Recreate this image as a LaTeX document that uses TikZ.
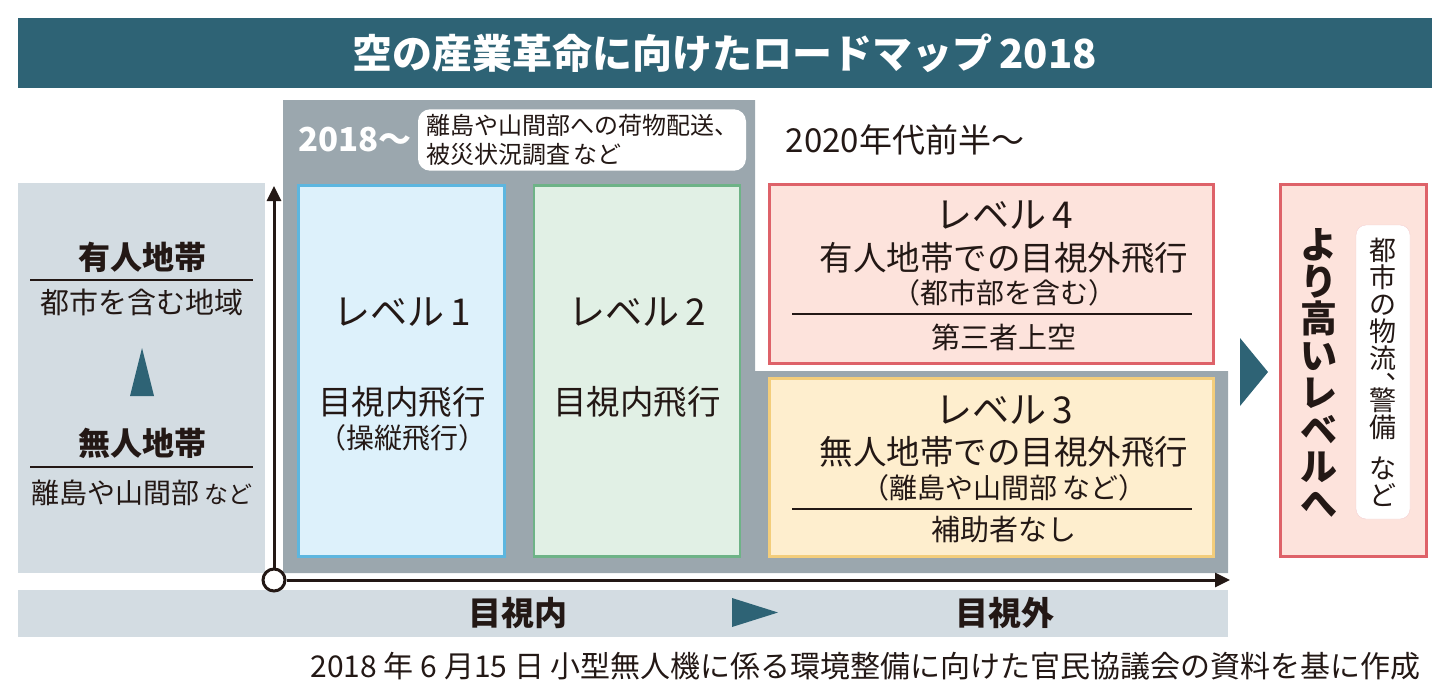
\documentclass[tikz,border=0pt]{standalone}
\usepackage{fontspec}
\setmainfont{Noto Sans CJK JP}
\usetikzlibrary{arrows.meta}

\definecolor{roadteal}{HTML}{2E6375}
\definecolor{panelgray}{HTML}{D3DCE2}
\definecolor{stepgray}{HTML}{9BA7AE}
\definecolor{ink}{HTML}{231815}
\definecolor{lvoneFill}{HTML}{DDF1FB}
\definecolor{lvoneLine}{HTML}{5DB6DF}
\definecolor{lvtwoFill}{HTML}{E1F0E5}
\definecolor{lvtwoLine}{HTML}{6EB387}
\definecolor{lvthreeFill}{HTML}{FEEECE}
\definecolor{lvthreeLine}{HTML}{F3CD7B}
\definecolor{lvfourFill}{HTML}{FDE3DC}
\definecolor{lvfourLine}{HTML}{DE6269}

\newcommand\fsz[1]{\fontsize{#1}{#1}\selectfont}

\tikzset{
  every node/.style={text=ink, inner sep=0pt},
  levelbox/.style={draw=#1Line, fill=#1Fill, line width=2.5pt},
  headtext/.style={font=\fsz{37}},
  bodytext/.style={font=\fsz{33.5}},
  subtext/.style={font=\fsz{28}},
  notetext/.style={font=\fsz{29}},
  rule/.style={draw=ink, line width=1.5pt},
  axis/.style={draw=ink, line width=3pt}
}

\begin{document}
\begin{tikzpicture}[x=1pt, y=-1pt, >={Triangle[length=15pt,width=14pt]}]
    \useasboundingbox (0,0) rectangle (1449,699);

    % 1. タイトル
    \fill[roadteal] (18,18) rectangle (1432,88);
    \node[text=white, font=\fsz{40}\bfseries] (title) at (725,53) {空の産業革命に向けたロードマップ\,2018};

    % 2. 背景の帯
    \fill[panelgray] (18,183) rectangle (265,573);
    \fill[panelgray] (18,590) rectangle (1228,637);
    \fill[stepgray] (283,100) -- (755,100) -- (755,371) -- (1228,371) -- (1228,573) -- (283,573) -- cycle;

    % 3. 左の帯 (有人地帯 / 無人地帯)
    \node[font=\fsz{32}\bfseries] (manned) at (142,257) {有人地帯};
    \draw[rule] (30,280) -- (253,280);
    \node[font=\fsz{29}] (mannedsub) at (142,302) {都市を含む地域};
    \fill[roadteal] (130,396) -- (142,348) -- (154,396) -- cycle;
    \node[font=\fsz{32}\bfseries] (unmanned) at (142,443) {無人地帯};
    \draw[rule] (30,467) -- (253,467);
    \node[font=\fsz{28}] (unmannedsub) at (142,493) {離島や山間部\,{\fsz{24}など}};

    % 4. 時期
    \node[text=white, font=\fsz{33}\bfseries] (since) at (355,140) {2018～};
    \node[fill=white, rounded corners=12pt, inner xsep=8pt, inner ysep=5pt, align=left,
          font=\fontsize{24}{29}\selectfont] (task) at (582,140) {離島や山間部への荷物配送、\\被災状況調査\,など};
    \node[font=\fsz{33}] (early) at (905,140) {2020年代前半～};

    % 5. レベル 1〜4
    \node[levelbox=lvone, minimum width=206, minimum height=371] (lv1) at (401.5,371) {};
    \node[headtext] (lv1head) at (402,312) {レベル\,1};
    \node[bodytext] (lv1body) at (402,402) {目視内飛行};
    \node[subtext] (lv1sub) at (402,438) {（操縦飛行）};

    \node[levelbox=lvtwo, minimum width=206, minimum height=371] (lv2) at (637,371) {};
    \node[headtext] (lv2head) at (637,312) {レベル\,2};
    \node[bodytext] (lv2body) at (637,402) {目視内飛行};

    \node[levelbox=lvfour, minimum width=444, minimum height=179] (lv4) at (991.5,274) {};
    \node[headtext] (lv4head) at (1004,215) {レベル\,4};
    \node[bodytext] (lv4body) at (1004,258) {有人地帯での目視外飛行};
    \node[subtext] (lv4sub) at (1004,293) {（都市部を含む）};
    \draw[rule] (792,314) -- (1192,314);
    \node[notetext] (lv4note) at (1004,337) {第三者上空};

    \node[levelbox=lvthree, minimum width=444, minimum height=178] (lv3) at (991.5,467.5) {};
    \node[headtext] (lv3head) at (1004,410) {レベル\,3};
    \node[bodytext] (lv3body) at (1004,452) {無人地帯での目視外飛行};
    \node[subtext] (lv3sub) at (1004,488) {（離島や山間部\,など）};
    \draw[rule] (792,509) -- (1192,509);
    \node[notetext] (lv3note) at (1004,530) {補助者なし};

    % 6. より高いレベルへ (縦書き)
    \fill[roadteal] (1240,338) -- (1268,372) -- (1240,406) -- cycle;
    \node[levelbox=lvfour, minimum width=146, minimum height=372] (next) at (1353.5,370.5) {};
    \node[align=center, font=\fsz{37}\bfseries] (nexthead) at (1319,373) {よ\\り\\高\\い\\レ\\ベ\\ル\\へ};
    \node[fill=white, draw=lvfourLine!30, rounded corners=10pt, minimum width=54, minimum height=294,
          align=center, font=\fsz{27}] (nextsub) at (1383,372) {都\\市\\の\\物\\流\\︑\\[-12pt]警\\備\\[14pt]な\\ど};

    % 7. 軸
    \node[circle, axis, fill=white, minimum size=22pt] (origin) at (274,580) {};
    \coordinate (ytip) at (274,186);
    \coordinate (xtip) at (1230,580);
    \draw[axis, ->] (origin) -- (ytip);
    \draw[axis, ->] (origin) -- (xtip);

    % 8. 目視内 → 目視外
    \node[font=\fsz{33}\bfseries] (within) at (518,613) {目視内};
    \fill[roadteal] (732,598) -- (778,612.5) -- (732,627) -- cycle;
    \node[font=\fsz{33}\bfseries] (beyond) at (1005,613) {目視外};

    % 9. 出典
    \node[anchor=east, font=\fsz{30}] (source) at (1421,666) {2018 年 6 月15 日 小型無人機に係る環境整備に向けた官民協議会の資料を基に作成};
\end{tikzpicture}
\end{document}
